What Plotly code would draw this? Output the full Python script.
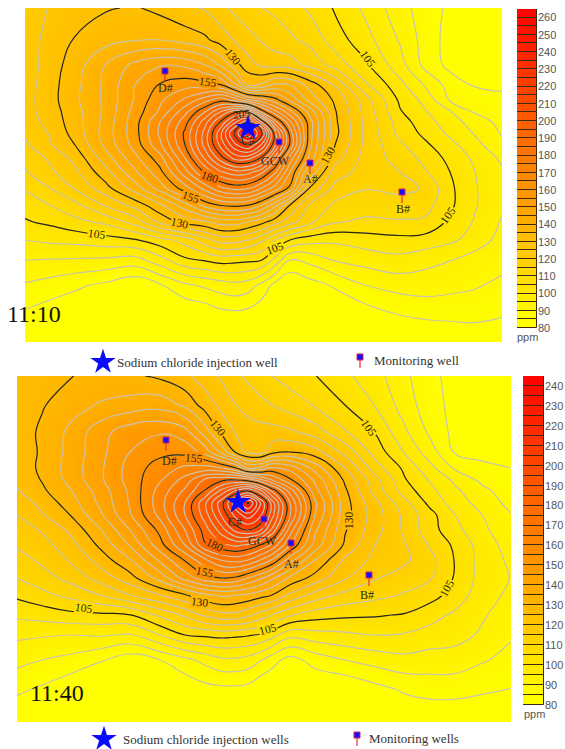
import plotly.graph_objects as go

W, H = 565, 749

# ---------- 11:10 panel ----------
p1_x = [25, 50, 75, 105, 135, 160, 185, 205, 220, 235, 248, 262, 275, 290, 310, 335, 365, 400, 425, 450, 475, 502]
p1_y = [8, 40, 65, 85, 100, 112, 122, 133, 145, 158, 172, 188, 205, 222, 240, 260, 285, 315, 342]
p1_z = [
 [120,125.5,128,129.5,130.5,128.5,126,124.5,121.5,118.5,116.5,115,114,112,109,104.5,99,92,87.5,84,83,82],
 [122,127,130.3,133,134.7,135,133,131,128,124.5,122,119.5,117.5,116,113.5,107.5,102,94.5,88,83,82,82],
 [122,127.5,132.5,140,146.5,149.5,149,145,139.5,132,127,124,123,122.5,118.5,113,106,97,88.5,83.5,82.5,82],
 [122.5,128,133.5,141,150,155.5,158,157,155.5,146,135,136,141,140,133,124.5,111,101.5,94.5,88,84.5,83.5],
 [123,128,134,141,150.5,159,166,173,178,173,166,162,157,149,138,129,117.5,104,98.5,89.5,88,87],
 [123,127.5,133,141,152,161,173.5,185,195,204,205,183,172,162,148,130.5,118.5,105.5,100.5,95.5,89.5,88],
 [122,127,132.5,141.5,153,165,178,193,205,219,229,209,187,171,152,131,119,107.5,102,97.5,92.5,88.5],
 [120.5,125.5,132,142,153,166,181,197,213,232,245,230,202,178,152,131.5,119,108.5,103.7,99,94.5,89.5],
 [119,124.5,130,141,152,164,180,197,211,224,230,219,201,179,151,130,119,111,106,101.5,96.7,91],
 [116,121,126.5,137.5,148.5,158,175,191,202.5,212,212,204,188,168,148,127.5,118,113,108.5,103.5,99,94],
 [114.5,119,124,133,144,153.5,168,181,189,193,192,186,176,160,139,122.5,118,115,110.5,105,100,95.7],
 [110.5,115,120.5,128,137.5,147.5,158,167,174,177,176,170,163,154,129.5,118.5,115.3,116.5,114.5,106,100.5,95.2],
 [107,110,113.5,120.5,127,134,143,152,155.5,156.5,155.5,150,142,130,119.5,114,112.5,112.5,112,106,100.4,96],
 [104.5,106,108.5,111,117,126,132,134,137,137.5,135,131.5,127,122,116,110.5,109,109.5,109,104,99.5,94.5],
 [100,101,101.5,103,104.5,108,112,118,122,122,120,116,110,105,102,101,102.5,103.5,103,101,98,93],
 [95,94.7,94.5,94,93,98,104,105.5,107,106.5,106,105,98.5,90,91.5,95.5,97,98.5,96.5,95.2,92.5,91.5],
 [89.5,88,86,84,81,84.5,89,91,92.5,93.7,92.5,88.5,83.5,80,83,85.7,90,92,92.5,91.5,90.5,89],
 [84,82,81,80,80,80,80,81,83,83.5,83,81,80,80,80,80,82,85,86,86.5,87,85.5],
 [80,80,80,80,80,80,80,80,80,80,80,80,80,80,80,80,80,80,80,80,80,80],
]
p1_wells = ["D#", "GCW", "A#", "B#"]
p1_well_x = [165, 279, 310, 402]
p1_well_y = [71, 142, 163, 192]
p1_well_label_x = [165, 275, 310, 403]
p1_well_label_y = [88, 161, 179, 209]
p1_star = (248, 128)
p1_star_label = (248, 140)
p1_contour_labels = [
    ("130", 233, 57, 50), ("105", 368, 59, 55), ("155", 208, 82, 8), ("205", 242, 114, -5),
    ("130", 328, 155, -60), ("180", 210, 177, 20), ("155", 191, 197, 20), ("130", 180, 223, 12),
    ("105", 97, 234, 8), ("105", 275, 248, -20), ("105", 448, 215, -55),
]
p1_bar_levels = list(range(80, 265, 5))
p1_ticks = list(range(80, 270, 10))

# ---------- 11:40 panel ----------
p2_x = [17, 42, 70, 100, 130, 160, 185, 205, 222, 236, 248, 260, 272, 290, 315, 345, 375, 405, 430, 455, 482, 511]
p2_y = [376, 405, 432, 452, 468, 480, 491, 503, 515, 530, 545, 560, 578, 595, 615, 635, 660, 690, 722]
p2_z = [
 [126,128,129.8,131.5,131,129,126,122.5,119,116,114,112,110,108,105.2,101,97,91,86.5,83,82,82],
 [126.5,129.5,133,135.5,137,138,134,127.7,123.5,120,118,116.5,115,112.5,109.5,105,99.8,92.6,87,83.5,82,82],
 [127,131,136,143,148,149.5,147,137.5,128.5,124.5,122.5,122,122,121,117.5,110.5,104.8,95.8,89,83.5,82.5,82],
 [127,130.7,136.5,143.5,150,153.5,153.5,148,138,129,123.5,122.5,128,130,127,118.5,108,99.5,92.3,84.5,82.5,82],
 [127,131,137,144,152,157.5,161,162,160,155,145,146,151,148,138,125,112.5,103.7,96.5,89.3,87,85],
 [126,130.3,136.5,144,152,159.5,167,176,179,180,178,172,165,156,144,129,117,105.4,99.5,94,88.8,86],
 [124.5,129,134.5,142,151,162,171,180.5,192,201,206,197,184,168,147,131,118,107.5,101.5,96,91.5,87],
 [122,126.5,132.5,141,150.5,163,175,189,203.5,219,231,216,198,175,151,132,121.5,111.5,103.6,97.7,93,88.5],
 [120,124.5,130,139,149.5,161.5,175,187.5,201,212,218,211.5,197,175.5,150,132,122.5,113.5,106.8,100,95,90.3],
 [117,120.5,126,134.5,145,156.5,170,182.5,193,202,205,201,189,167.5,146,130.5,122,114,107,101.7,96,92],
 [115.5,118,123,131,140.5,153,165,179.5,184,186,184,180,174,160,143,129,120,115.2,109.5,104,97.8,92.7],
 [113,116,120.5,127,134.5,146,155.5,164,170.5,172,170,165,159.5,147,135,124,118.5,116,111.5,104.7,98,94],
 [110,113,116.5,122,128,137,147,153,155,154,150,146,141,134,128,120.5,115.5,112.5,110.5,104.5,98,94.8],
 [106,108.5,111.5,115,120,125,129.5,134,136,135,134,132,130,124,118,113.5,111.5,109.5,107,103,97,94],
 [101,102,103.5,104,104.8,111,116,121,123.5,123.5,121,118,115,110.5,107.3,106,105.5,104.6,102,99,95.7,92],
 [96,95.5,95,95.5,94.5,100,105,106,106.5,106,105.5,104.5,102,96.5,98,99,100,99.5,98,97,94.2,90.5],
 [91.5,90,88.5,85.5,82,85,88.5,91.5,94,94,93,90.5,87,83,87,90,92,93.5,92.7,92.5,90.5,88.5],
 [86,84,81,80,80,80,81,83,83.5,83.5,83,80.5,80,80,80,80,83,85.7,87,87,85.8,84.8],
 [80,80,80,80,80,80,80,80,80,80,80,80,80,80,80,80,80,80,80,80,80,80],
]
p2_wells = ["D#", "GCW", "A#", "B#"]
p2_well_x = [166, 264, 291, 369]
p2_well_y = [440, 519, 543, 575]
p2_well_label_x = [169, 262, 291, 367]
p2_well_label_y = [461, 541, 564, 595]
p2_star = (238, 502)
p2_star_label = (235, 522)
p2_contour_labels = [
    ("130", 218, 428, 50), ("105", 369, 428, 55), ("155", 194, 458, 5), ("130", 349, 520, -90),
    ("180", 215, 545, 25), ("155", 205, 572, 12), ("130", 200, 602, 6), ("105", 84, 608, 8),
    ("105", 268, 629, -15), ("105", 447, 588, -60),
]
p2_bar_levels = list(range(80, 245, 5))
p2_ticks = list(range(80, 250, 10))

SERIF = "Liberation Serif"
SANS = "Liberation Sans"
GRAY = "#c8c4b0"
DARK = "#2e2500"
LOW = 85


def level_color(v, vmax):
    t = min(1.0, max(0.0, (v - LOW) / (vmax - LOW)))
    return "rgb(255,%d,0)" % round(255 * (1 - t))


fig = go.Figure()
ann = []


def fy(px):
    return 1 - px / H


def add_pins(xs, ys, ax, ay):
    fig.add_trace(go.Scatter(
        x=xs, y=[v + 4 for v in ys], mode="markers", xaxis=ax, yaxis=ay, hoverinfo="skip",
        marker=dict(symbol="line-ns", size=10, line=dict(color="#f03030", width=1.2)),
    ))
    fig.add_trace(go.Scatter(
        x=xs, y=ys, mode="markers", xaxis=ax, yaxis=ay, hoverinfo="skip",
        marker=dict(symbol="square", size=6, color="#1010ff", line=dict(color="#e02050", width=1)),
    ))


def panel(idx, x, y, z, vmax, box, bar_box, bar_range, levels, ticks, wells, wx, wy, lx, ly, star, star_label, labels):
    assert all(len(r) == len(x) for r in z) and len(z) == len(y)
    ax, ay = ("x", "y") if idx == 1 else ("x3", "y3")
    bx, by = ("x2", "y2") if idx == 1 else ("x4", "y4")
    fig.add_trace(go.Contour(
        x=x, y=y, z=z, xaxis=ax, yaxis=ay, zmin=LOW, zmax=vmax, showscale=False,
        colorscale=[[0, "#ffff00"], [1, "#ff0000"]], hoverinfo="skip",
        contours=dict(coloring="heatmap", start=LOW, end=vmax, size=5),
        line=dict(color=GRAY, width=1.2, smoothing=1.3),
    ))
    fig.add_trace(go.Contour(
        x=x, y=y, z=z, xaxis=ax, yaxis=ay, showscale=False, hoverinfo="skip",
        contours=dict(coloring="none", start=105, end=vmax, size=25),
        line=dict(color=DARK, width=1.2, smoothing=1.3),
    ))
    add_pins(wx, wy, ax, ay)
    fig.add_trace(go.Scatter(
        x=[star[0]], y=[star[1]], mode="markers", xaxis=ax, yaxis=ay, hoverinfo="skip",
        marker=dict(symbol="star", size=19, color="#0a0aff", line=dict(width=0)),
    ))
    for n, a, b in zip(wells, lx, ly):
        ann.append(dict(x=a, y=b, xref=ax, yref=ay, text=n, showarrow=False,
                        font=dict(family=SERIF, size=12, color="#2a2a1a")))
    ann.append(dict(x=star_label[0], y=star_label[1], xref=ax, yref=ay, text="C#", showarrow=False,
                    font=dict(family=SERIF, size=12, color="#2a2a1a")))
    for t, a, b, ang in labels:
        item = dict(x=a, y=b, xref=ax, yref=ay, text=t, textangle=ang, showarrow=False, borderpad=0,
                    font=dict(family=SERIF, size=11.5, color="#2a2410"))
        if t != "205":
            item["bgcolor"] = level_color(float(t), vmax)
        ann.append(item)
    fig.add_trace(go.Bar(
        x=[0] * len(levels), y=[5] * len(levels), base=levels, width=1, xaxis=bx, yaxis=by, hoverinfo="skip",
        marker=dict(color=[level_color(v + 2.5, vmax) for v in levels], line=dict(color="#3a2a10", width=1)),
    ))
    fig.layout[("xaxis" if idx == 1 else "xaxis3")] = dict(
        domain=[box[0] / W, box[1] / W], range=[box[0], box[1]], visible=False, anchor=ay, automargin=False)
    fig.layout[("yaxis" if idx == 1 else "yaxis3")] = dict(
        domain=[fy(box[3]), fy(box[2])], range=[box[3], box[2]], visible=False, anchor=ax, automargin=False)
    fig.layout[("xaxis2" if idx == 1 else "xaxis4")] = dict(
        domain=[bar_box[0] / W, bar_box[1] / W], range=[-0.5, 0.5], visible=False, anchor=by, automargin=False)
    fig.layout[("yaxis2" if idx == 1 else "yaxis4")] = dict(
        domain=[fy(bar_box[3]), fy(bar_box[2])], range=bar_range, anchor=bx, side="right", automargin=False,
        tickvals=ticks, ticks="", showgrid=False, zeroline=False, showline=False,
        tickfont=dict(family=SANS, size=11, color="#555555"))


panel(1, p1_x, p1_y, p1_z, 265, (25, 502, 8, 342), (517, 537, 9, 328), [80, 265], p1_bar_levels, p1_ticks,
      p1_wells, p1_well_x, p1_well_y, p1_well_label_x, p1_well_label_y, p1_star, p1_star_label, p1_contour_labels)
panel(2, p2_x, p2_y, p2_z, 245, (17, 511, 376, 722), (523, 544, 376, 705), [80, 245], p2_bar_levels, p2_ticks,
      p2_wells, p2_well_x, p2_well_y, p2_well_label_x, p2_well_label_y, p2_star, p2_star_label, p2_contour_labels)

# legend rows and time stamps on a page-sized overlay axis
page_text = [
    ("11:10", 34, 314, 24, SERIF, "#111111"), ("11:40", 57, 693, 24, SERIF, "#111111"),
    ("ppm", 527, 337, 11, SANS, "#555555"), ("ppm", 534, 714, 11, SANS, "#555555"),
    ("Sodium chloride injection well", 197, 362, 13, SERIF, "#333333"),
    ("Monitoring well", 416, 360, 13, SERIF, "#333333"),
    ("Sodium chloride injection wells", 206, 739, 13, SERIF, "#333333"),
    ("Monitoring wells", 414, 738, 13, SERIF, "#333333"),
]
legend_star_x = [103, 104]
legend_star_y = [362, 739]
legend_pin_x = [360, 357]
legend_pin_y = [357, 735]
add_pins(legend_pin_x, legend_pin_y, "x5", "y5")
fig.add_trace(go.Scatter(x=legend_star_x, y=legend_star_y, mode="markers", xaxis="x5", yaxis="y5", hoverinfo="skip",
                         marker=dict(symbol="star", size=19, color="#0a0aff", line=dict(width=0))))
for t, a, b, s, fam, col in page_text:
    ann.append(dict(x=a, y=b, xref="x5", yref="y5", text=t, showarrow=False,
                    font=dict(family=fam, size=s, color=col)))

fig.update_layout(
    width=W, height=H, margin=dict(l=0, r=0, t=0, b=0, autoexpand=False), showlegend=False,
    paper_bgcolor="white", plot_bgcolor="rgba(0,0,0,0)", barmode="overlay", bargap=0,
    annotations=ann,
    xaxis5=dict(domain=[0, 1], range=[0, W], visible=False, anchor="y5", automargin=False),
    yaxis5=dict(domain=[0, 1], range=[H, 0], visible=False, anchor="x5", automargin=False),
)
fig.write_html("out.html", config={"displayModeBar": False},
               post_script="document.documentElement.style.overflow='hidden';document.body.style.margin='0';document.body.style.overflow='hidden';")
